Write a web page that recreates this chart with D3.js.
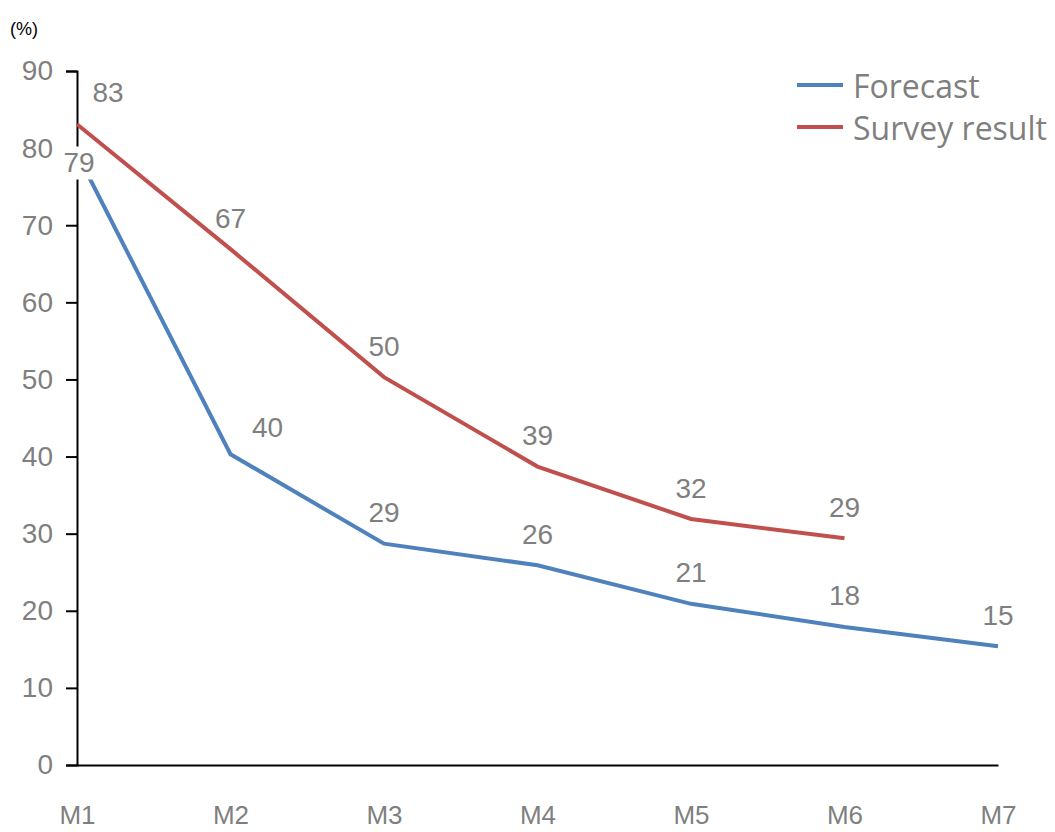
<!DOCTYPE html>
<html>
<head>
  <meta charset="utf-8">
  <title>Forecast vs survey</title>
  <style>
    body { margin: 0; background: #fff; }
    svg { display: block; }
  </style>
</head>
<body>
  <svg id="chart"></svg>
  <script src="https://cdnjs.cloudflare.com/ajax/libs/d3/7.8.5/d3.min.js"></script>
  <script>
    // chart data
    const months = ["M1", "M2", "M3", "M4", "M5", "M6", "M7"];
    const forecast = [79.3, 40.3, 28.7, 25.9, 20.9, 17.9, 15.4];
    const survey = [83.1, 66.9, 50.3, 38.7, 31.9, 29.4];
    const yTicks = [0, 10, 20, 30, 40, 50, 60, 70, 80, 90];
    const seriesNames = ["Forecast", "Survey result"];

    const width = 1055, height = 832;
    const margin = { top: 71, right: 57, bottom: 67, left: 77 };

    const svg = d3.select("#chart")
      .attr("width", width)
      .attr("height", height);

    const x = d3.scalePoint()
      .domain(months)
      .range([margin.left, width - margin.right]);

    const y = d3.scaleLinear()
      .domain([0, 90])
      .range([height - margin.bottom, margin.top]);

    const grey = "#7f7f7f";
    const colors = ["#4f81bd", "#c0504d"];
    const font = "Liberation Sans, Arial, sans-serif";

    /** y axis */
    const gy = svg.append("g")
      .attr("transform", `translate(${margin.left},0)`)
      .call(d3.axisLeft(y).tickValues(yTicks).tickSize(11).tickSizeOuter(11).tickPadding(13));
    gy.selectAll("path, line").attr("stroke", "#000").attr("stroke-width", 2);
    gy.selectAll("text")
      .attr("fill", grey)
      .attr("font-family", font)
      .attr("font-size", 28);

    /** x axis */
    const gx = svg.append("g")
      .attr("transform", `translate(0,${y(0)})`)
      .call(d3.axisBottom(x).tickSize(0).tickPadding(41));
    gx.select(".domain").attr("stroke", "#000").attr("stroke-width", 2);
    gx.selectAll("text")
      .attr("fill", grey)
      .attr("font-family", font)
      .attr("font-size", 26);

    svg.append("text")
      .attr("x", 10).attr("y", 35)
      .attr("font-family", font)
      .attr("font-size", 18)
      .text("(%)");

    /** lines */
    const line = d3.line()
      .x((d, i) => x(months[i]))
      .y(d => y(d));

    [forecast, survey].forEach((vals, k) => {
      svg.append("path")
        .datum(vals)
        .attr("fill", "none")
        .attr("stroke", colors[k])
        .attr("stroke-width", 4)
        .attr("d", line);
    });

    /** data labels */
    function addLabel(val, i, dx, dy, boxed) {
      const cx = x(months[i]) + dx, cy = y(val) + dy;
      const g = svg.append("g");
      if (boxed) {
        g.append("rect")
          .attr("x", cx - 19).attr("y", cy - 16)
          .attr("width", 38).attr("height", 33)
          .attr("fill", "#fff");
      }
      g.append("text")
        .attr("x", cx).attr("y", cy)
        .attr("text-anchor", "middle")
        .attr("dominant-baseline", "central")
        .attr("fill", grey)
        .attr("font-family", font)
        .attr("font-size", 28)
        .text(Math.round(val));
    }

    forecast.forEach((v, i) => {
      if (i === 0) addLabel(v, i, 2, 9, true);
      else if (i === 1) addLabel(v, i, 37, -27);
      else addLabel(v, i, 0, -31);
    });
    survey.forEach((v, i) => {
      if (i === 0) addLabel(v, i, 31, -32);
      else addLabel(v, i, 0, -31);
    });

    /** legend */
    const legend = svg.append("g");
    seriesNames.forEach((name, k) => {
      const ly = 85 + k * 42;
      legend.append("line")
        .attr("x1", 797).attr("x2", 843)
        .attr("y1", ly).attr("y2", ly)
        .attr("stroke", colors[k])
        .attr("stroke-width", 4);
      legend.append("text")
        .attr("x", 853).attr("y", ly)
        .attr("dominant-baseline", "central")
        .attr("fill", grey)
        .attr("font-family", "Open Sans, sans-serif")
        .attr("font-size", 32)
        .text(name);
    });
  </script>
</body>
</html>
